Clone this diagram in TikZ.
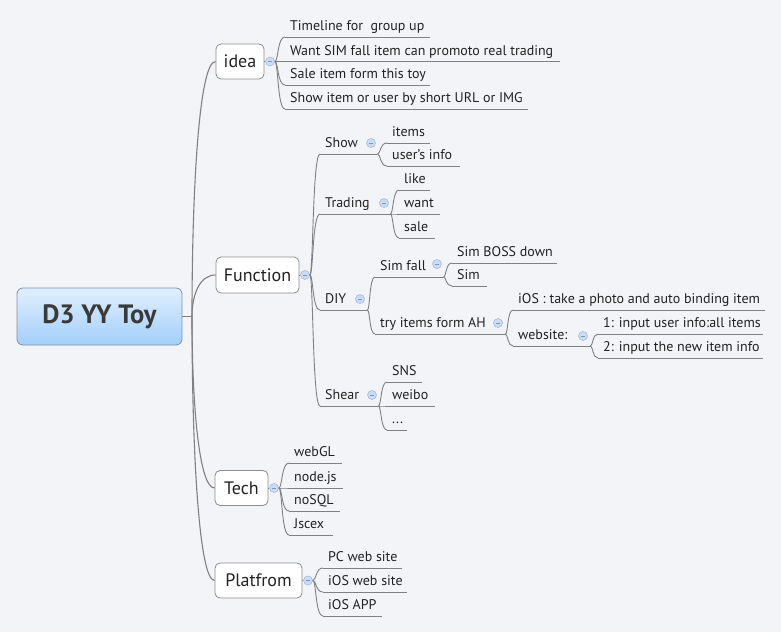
\documentclass[tikz,border=0pt]{standalone}
\usepackage{fontspec}
\setmainfont{PT Sans}
\usetikzlibrary{calc}
\definecolor{bgc}{RGB}{243,244,248}
\definecolor{lnc}{RGB}{128,128,128}
\definecolor{txc}{RGB}{34,34,34}
\definecolor{boxc}{RGB}{140,140,140}
\definecolor{togf}{RGB}{204,221,242}
\definecolor{togd}{RGB}{160,188,226}
\definecolor{togm}{RGB}{120,150,200}
\definecolor{ctop}{RGB}{224,239,255}
\definecolor{cbot}{RGB}{163,207,250}
\definecolor{cbd}{RGB}{122,145,172}
\definecolor{rootc}{RGB}{58,58,58}
\newcommand\lbl[2]{\makebox[#1pt][l]{\hspace{5pt}#2}}
\newcommand\conn[2]{\draw[ln] (#1) .. controls ($(#1)!0.35!(#1 -| #2)$) and ($(#1 |- #2)!0.25!(#2)$) .. (#2);}
\newcommand\mconn[2]{\draw[trunk] (#1) .. controls ($(#1)!0.5!(#1 |- #2)$) and ($(#1 |- #2)!0.3!(#2)$) .. (#2);}
\newcommand\uline[1]{\draw[ln] (#1.south west) -- (#1.south east);}
\begin{document}
\begin{tikzpicture}[x=1pt,y=-1pt,
  ln/.style={draw=lnc, line width=0.9pt},
  trunk/.style={draw=lnc, line width=1.1pt},
  sub/.style={anchor=south west, inner sep=0pt, text height=10pt, text depth=6pt, font=\fontsize{14}{16}\selectfont, text=txc},
  topic/.style={draw=boxc, fill=white, rounded corners=5pt, line width=0.8pt, font=\fontsize{18}{21}\selectfont, text=txc, inner sep=0pt},
  tog/.style={circle, minimum size=9pt, inner sep=0pt, fill=togf, draw=togd, line width=0.6pt,
    path picture={\draw[togm, line width=0.9pt] ($(path picture bounding box.center)+(-2.2pt,0pt)$) -- ($(path picture bounding box.center)+(2.2pt,0pt)$);}}
]
\fill[bgc] (0,0) rectangle (781,632);
\useasboundingbox (0,0) rectangle (781,632);

% root
\node[draw=cbd, line width=0.8pt, top color=ctop, bottom color=cbot, rounded corners=6pt, minimum width=165pt, minimum height=57pt, font=\fontsize{26.5}{30}\selectfont\bfseries, text=rootc] (root) at (99.5,316.5) {D3 YY Toy};
\coordinate (hub) at (192,316.5);

% main topics
\node[topic, minimum width=48pt, minimum height=35pt] (idea) at (240,61.5) {idea};
\node[topic, minimum width=83pt, minimum height=36pt] (func) at (257.5,275) {Function};
\node[topic, minimum width=53pt, minimum height=35pt] (tech) at (241.5,488) {Tech};
\node[topic, minimum width=87pt, minimum height=35pt] (plat) at (258.5,580.5) {Platfrom};

\node[tog] (cIdea) at (270,61.5) {};
\node[tog] (cFunc) at (305,275) {};
\node[tog] (cTech) at (274,488) {};
\node[tog] (cPlat) at (308,580.5) {};

% idea children
\node[sub] (i1) at (285,37) {\lbl{145}{Timeline for~ group up}};
\node[sub] (i2) at (285,61.5) {\lbl{275}{Want SIM fall item can promoto real trading}};
\node[sub] (i3) at (285,85) {\lbl{145}{Sale item form this toy}};
\node[sub] (i4) at (285,109) {\lbl{243}{Show item or user by short URL or IMG}};

% function children
\node[sub] (show) at (320,154) {\lbl{57}{Show}};
\node[sub] (trad) at (320,214) {\lbl{70}{Trading}};
\node[sub] (diy) at (320,310) {\lbl{47}{DIY}};
\node[sub] (shear) at (320,406) {\lbl{58}{Shear}};
\node[tog] (cShow) at (371,143) {};
\node[tog] (cTrad) at (384,203) {};
\node[tog] (cDiy) at (360,299) {};
\node[tog] (cShear) at (372,395) {};

\node[sub] (items) at (387,143) {\lbl{43}{items}};
\node[sub] (uinfo) at (387,166) {\lbl{73}{user's info}};

\node[sub] (like) at (399,190) {\lbl{31}{like}};
\node[sub] (want) at (399,214) {\lbl{41}{want}};
\node[sub] (sale) at (399,238) {\lbl{36}{sale}};

\node[sub] (simfall) at (375,277) {\lbl{68}{Sim fall}};
\node[sub] (tryi) at (375,334) {\lbl{130}{try items form AH}};
\node[tog] (cSimfall) at (437,264) {};
\node[tog] (cTry) at (498,323) {};

\node[sub] (boss) at (452,263) {\lbl{105}{Sim BOSS down}};
\node[sub] (sim) at (452,286) {\lbl{35}{Sim}};

\node[sub] (ios) at (513,310) {\lbl{252}{iOS : take a photo and auto binding item}};
\node[sub] (web) at (513,346) {\lbl{77}{website:}};
\node[tog] (cWeb) at (583,336) {};

\node[sub] (in1) at (598,334) {\lbl{165}{1: input user info:all items}};
\node[sub] (in2) at (598,358) {\lbl{165}{2: input the new item info}};

\node[sub] (sns) at (387,382) {\lbl{35}{SNS}};
\node[sub] (weibo) at (387,406) {\lbl{48}{weibo}};
\node[sub] (dots) at (387,430) {\lbl{20}{...}};

% tech children
\node[sub] (webgl) at (289,463) {\lbl{53}{webGL}};
\node[sub] (nodejs) at (289,488) {\lbl{54}{node.js}};
\node[sub] (nosql) at (289,511) {\lbl{51}{noSQL}};
\node[sub] (jscex) at (289,535) {\lbl{44}{Jscex}};

% platform children
\node[sub] (pc) at (323,568) {\lbl{79}{PC web site}};
\node[sub] (iosweb) at (323,592) {\lbl{84}{iOS web site}};
\node[sub] (iosapp) at (323,616) {\lbl{59}{iOS APP}};

% main trunk
\draw[trunk] (root.east) -- (hub);
\mconn{hub}{idea.west}
\mconn{hub}{func.west}
\mconn{hub}{tech.west}
\mconn{hub}{plat.west}

\draw[ln] (idea.east) -- (cIdea.west);
\draw[ln] (func.east) -- (cFunc.west);
\draw[ln] (tech.east) -- (cTech.west);
\draw[ln] (plat.east) -- (cPlat.west);

% underlines
\foreach \n in {i1,i2,i3,i4,show,trad,diy,shear,items,uinfo,like,want,sale,simfall,tryi,boss,sim,ios,web,in1,in2,sns,weibo,dots,webgl,nodejs,nosql,jscex,pc,iosweb,iosapp}{\uline{\n}}

% connectors
\foreach \c in {i1,i2,i3,i4}{\conn{cIdea.east}{\c.south west}}
\foreach \c in {show,trad,diy,shear}{\conn{cFunc.east}{\c.south west}}
\foreach \c in {items,uinfo}{\conn{show.south east}{\c.south west}}
\foreach \c in {like,want,sale}{\conn{trad.south east}{\c.south west}}
\foreach \c in {simfall,tryi}{\conn{diy.south east}{\c.south west}}
\foreach \c in {boss,sim}{\conn{simfall.south east}{\c.south west}}
\foreach \c in {ios,web}{\conn{tryi.south east}{\c.south west}}
\foreach \c in {in1,in2}{\conn{web.south east}{\c.south west}}
\foreach \c in {sns,weibo,dots}{\conn{shear.south east}{\c.south west}}
\foreach \c in {webgl,nodejs,nosql,jscex}{\conn{cTech.east}{\c.south west}}
\foreach \c in {pc,iosweb,iosapp}{\conn{cPlat.east}{\c.south west}}
\end{tikzpicture}
\end{document}
